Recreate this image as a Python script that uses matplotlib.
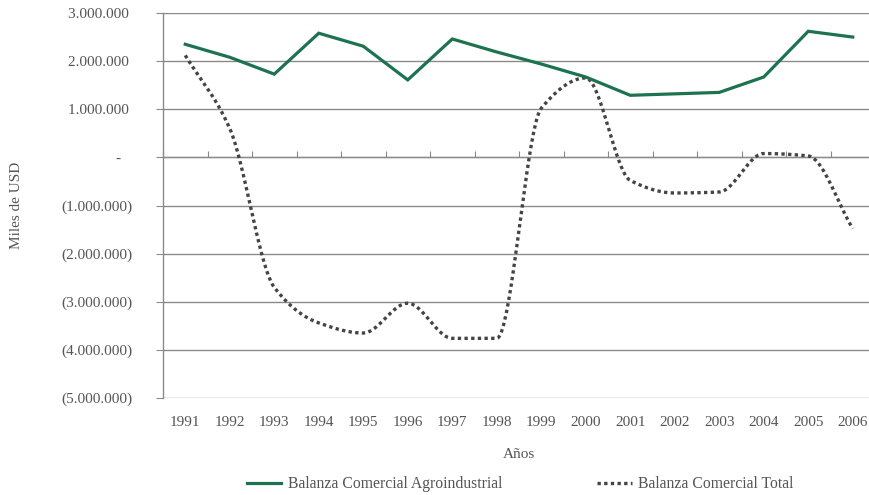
import numpy as np
import matplotlib
matplotlib.use("Agg")
import matplotlib.pyplot as plt

# Balanza comercial, miles de USD
years = [1991, 1992, 1993, 1994, 1995, 1996, 1997, 1998,
         1999, 2000, 2001, 2002, 2003, 2004, 2005, 2006]
agro = [2350000, 2080000, 1730000, 2580000, 2310000, 1610000, 2460000, 2190000,
        1940000, 1670000, 1290000, 1320000, 1350000, 1670000, 2620000, 2500000]
total = [2120000, 600000, -2700000, -3440000, -3650000, -3030000, -3760000, -3760000,
         1020000, 1650000, -480000, -740000, -720000, 80000, 30000, -1480000]

y_ticks = list(range(-5000000, 3000001, 1000000))

GREEN = "#1d7350"
DOT = "#444444"
GRID = "#8a8a8a"
TEXT = "#555555"
FONT = "Liberation Serif"
FS = 11


def smooth(xs, ys, n=40):
    # monotone cubic (Fritsch-Carlson) so the curve does not overshoot the points
    xs = np.asarray(xs, float)
    ys = np.asarray(ys, float)
    h = np.diff(xs)
    d = np.diff(ys) / h
    m = np.zeros_like(ys)
    m[0], m[-1] = d[0], d[-1]
    for i in range(1, len(ys) - 1):
        if d[i - 1] * d[i] > 0:
            w1 = 2 * h[i] + h[i - 1]
            w2 = h[i] + 2 * h[i - 1]
            m[i] = (w1 + w2) / (w1 / d[i - 1] + w2 / d[i])
    ox, oy = [], []
    t = np.linspace(0, 1, n, endpoint=False)
    for i in range(len(xs) - 1):
        h00 = 2 * t ** 3 - 3 * t ** 2 + 1
        h10 = t ** 3 - 2 * t ** 2 + t
        h01 = -2 * t ** 3 + 3 * t ** 2
        h11 = t ** 3 - t ** 2
        ox.extend(xs[i] + t * h[i])
        oy.extend(h00 * ys[i] + h10 * h[i] * m[i] + h01 * ys[i + 1] + h11 * h[i] * m[i + 1])
    ox.append(xs[-1])
    oy.append(ys[-1])
    return np.array(ox), np.array(oy)


def fmt(v):
    if v == 0:
        return "-   "
    s = f"{abs(v):,}".replace(",", ".")
    return f"({s})" if v < 0 else s + " "


fig = plt.figure(figsize=(8.69, 4.95), dpi=100)
ax = fig.add_axes([163 / 869, 1 - 398 / 495, 712 / 869, 385 / 495])

x = np.arange(len(years))
sx, sy = smooth(x, total)
ax.plot(sx, sy, color=DOT, lw=2.4, linestyle=(0, (1, 1)),
        dash_capstyle="butt", label="Balanza Comercial Total", zorder=3)
ax.plot(x, agro, color=GREEN, lw=2.3, solid_joinstyle="miter",
        label="Balanza Comercial Agroindustrial", zorder=4)

ax.set_xlim(-0.5, len(years) - 0.5)
ax.set_ylim(y_ticks[0], y_ticks[-1])

for v in y_ticks:
    ax.axhline(v, color=GRID, lw=1.0, zorder=1)

for side in ("top", "right", "bottom"):
    ax.spines[side].set_visible(False)
ax.spines["left"].set_color(GRID)
ax.spines["left"].set_linewidth(1.0)

ax.set_yticks(y_ticks)
ax.set_yticklabels([fmt(v) for v in y_ticks], fontfamily=FONT,
                   fontsize=FS, color=TEXT)
ax.tick_params(axis="y", direction="out", length=5, color=GRID, pad=17)

ax.set_xticks(x)
ax.set_xticklabels([str(y) for y in years], fontfamily=FONT,
                   fontsize=FS, color=TEXT)
ax.tick_params(axis="x", length=0, pad=13)

# category boundary ticks on the zero line
zero = (0 - y_ticks[0]) / (y_ticks[-1] - y_ticks[0])
sec = ax.secondary_xaxis(zero)
sec.set_xticks(np.arange(len(years) + 1) - 0.5)
sec.set_xticklabels([])
sec.tick_params(direction="out", length=4, color=GRID)
sec.spines["bottom"].set_visible(False)

ax.set_xlabel("Años", fontfamily=FONT, fontsize=FS, color=TEXT, labelpad=14)
fig.text(17 / 869, 1 - 205 / 495, "Miles de USD", rotation=90, ha="center",
         va="center", fontfamily=FONT, fontsize=FS, color=TEXT)

handles, labels = ax.get_legend_handles_labels()
fig.legend(handles[::-1], labels[::-1], loc="center", ncol=2,
           bbox_to_anchor=(520 / 869, 1 - 484 / 495), frameon=False,
           prop={"family": FONT, "size": 11.3}, labelcolor=TEXT,
           handlelength=2.2, handletextpad=0.4, columnspacing=6.05)

fig.savefig("out.png", dpi=100)
